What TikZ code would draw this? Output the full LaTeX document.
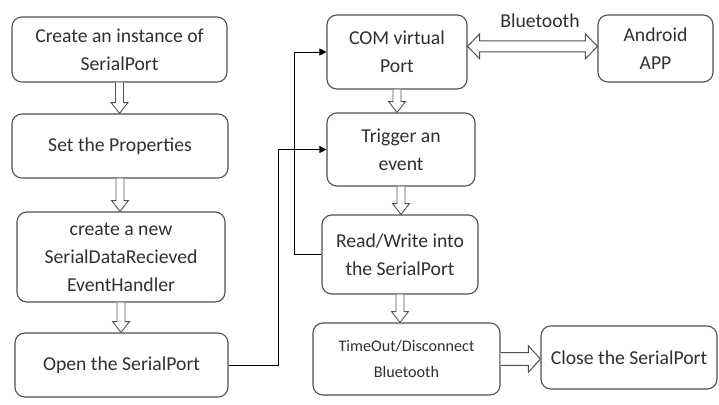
\documentclass[tikz,border=0pt]{standalone}
\usepackage{fontspec}
\setmainfont{Carlito}
\usetikzlibrary{arrows.meta,positioning,calc}
\definecolor{BoxLine}{HTML}{505050}
\definecolor{TextGray}{HTML}{303030}

\begin{document}
\begin{tikzpicture}[
    x=0.025cm, y=-0.025cm,
    font=\fontsize{14}{20}\selectfont,
    stepbox/.style={draw=BoxLine, rounded corners=7pt, fill=white, line width=0.8pt,
      align=center, text=TextGray, inner sep=2pt},
    % seta oca para baixo
    downflow/.style={draw=BoxLine, fill=white, line width=0.6pt, line join=miter,
      to path={let \p1=(\tikztostart), \p2=(\tikztotarget) in
        (\x1-0.1cm,\y1) -- (\x1-0.1cm,\y2+0.27cm) -- (\x1-0.21cm,\y2+0.27cm) -- (\x1,\y2)
        -- (\x1+0.21cm,\y2+0.27cm) -- (\x1+0.1cm,\y2+0.27cm) -- (\x1+0.1cm,\y1)}},
    % seta oca para a direita
    rightflow/.style={draw=BoxLine, fill=white, line width=0.7pt, line join=miter,
      to path={let \p1=(\tikztostart), \p2=(\tikztotarget) in
        (\x1,\y1+0.16cm) -- (\x2-0.3cm,\y1+0.16cm) -- (\x2-0.3cm,\y1+0.33cm) -- (\x2,\y1)
        -- (\x2-0.3cm,\y1-0.33cm) -- (\x2-0.3cm,\y1-0.16cm) -- (\x1,\y1-0.16cm)}},
    % seta oca dupla
    bothflow/.style={draw=BoxLine, fill=white, line width=0.7pt, line join=miter,
      to path={let \p1=(\tikztostart), \p2=(\tikztotarget) in
        (\x1,\y1) -- (\x1+0.3cm,\y1+0.31cm) -- (\x1+0.3cm,\y1+0.14cm) -- (\x2-0.3cm,\y1+0.14cm)
        -- (\x2-0.3cm,\y1+0.31cm) -- (\x2,\y1) -- (\x2-0.3cm,\y1-0.31cm) -- (\x2-0.3cm,\y1-0.14cm)
        -- (\x1+0.3cm,\y1-0.14cm) -- (\x1+0.3cm,\y1-0.31cm) -- cycle}},
    link/.style={draw=black, line width=0.7pt, -{Triangle[length=5pt,width=5pt]}}
]

  % Fundo
  \useasboundingbox (0,0) rectangle (719,405);
  \fill[white] (0,0) rectangle (719,405);

  % =========================================================================
  % COLUNA ESQUERDA
  % =========================================================================
  \node[stepbox, minimum width=215*0.025cm, minimum height=65*0.025cm] (b_inst) at (119.5, 49.5)
    {Create an instance of\\SerialPort};
  \node[stepbox, minimum width=216*0.025cm, minimum height=64*0.025cm] (b_prop) at (120, 146)
    {Set the Properties};
  \node[stepbox, minimum width=208*0.025cm, minimum height=90*0.025cm] (b_hand) at (121, 257)
    {create a new\\SerialDataRecieved\\EventHandler};
  \node[stepbox, minimum width=213*0.025cm, minimum height=64*0.025cm] (b_open) at (121.5, 365)
    {Open the SerialPort};

  \draw[downflow] (b_inst.south) to (b_prop.north);
  \draw[downflow] (b_prop.south) to (b_hand.north);
  \draw[downflow] (b_hand.south) to (b_open.north);

  % =========================================================================
  % COLUNA DIREITA
  % =========================================================================
  \node[stepbox, minimum width=140*0.025cm, minimum height=74*0.025cm] (b_com) at (397, 52)
    {COM virtual\\Port};
  \node[stepbox, minimum width=148*0.025cm, minimum height=73*0.025cm] (b_trig) at (401, 149.5)
    {Trigger an\\event};
  \node[stepbox, minimum width=156*0.025cm, minimum height=79*0.025cm] (b_rw) at (400, 254.5)
    {Read/Write into\\the SerialPort};
  \node[stepbox, minimum width=187*0.025cm, minimum height=72*0.025cm,
        font=\fontsize{11.5}{18}\selectfont] (b_tout) at (406.5, 359)
    {TimeOut/Disconnect\\Bluetooth};

  \node[stepbox, minimum width=115*0.025cm, minimum height=67*0.025cm] (b_app) at (655.5, 48.5)
    {Android\\APP};
  \node[stepbox, minimum width=176*0.025cm, minimum height=63*0.025cm] (b_close) at (629, 357.5)
    {Close the SerialPort};

  \draw[downflow] (b_com.south) to (b_com.south |- b_trig.north);
  \draw[downflow] (b_trig.south) to (b_trig.south |- b_rw.north);
  \draw[downflow] (b_rw.south) to (b_rw.south |- b_tout.north);

  % Bluetooth
  \draw[bothflow] ([yshift=4pt]b_com.east) to ([yshift=4pt]b_com.east -| b_app.west);
  \node[text=TextGray] (l_bt) at (540, 21) {Bluetooth};
  \draw[rightflow] (b_tout.east) to (b_tout.east -| b_close.west);

  % Ligacoes
  \draw[link] (b_open.east) -- ++(50,0) |- (b_trig.west);
  \draw[link] (b_rw.west) -- ++(-27,0) |- (b_com.west);

\end{tikzpicture}
\end{document}
